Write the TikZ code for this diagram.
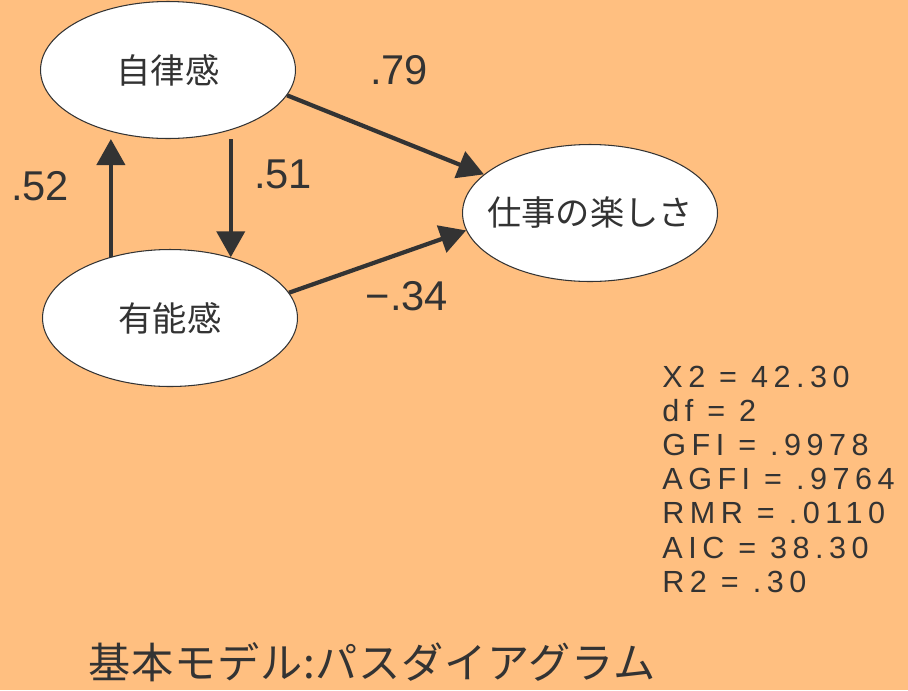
\documentclass[tikz,border=0pt]{standalone}
\usepackage{fontspec}
\setmainfont{Liberation Sans}
\newfontfamily\jpfont{Noto Sans CJK JP}
\newfontfamily\titlefont[LetterSpace=2]{Noto Sans CJK JP}
\newfontfamily\statfont[LetterSpace=18]{Liberation Sans}
\usetikzlibrary{arrows.meta,shapes.geometric}
\definecolor{peach}{HTML}{FFBF80}
\definecolor{ink}{HTML}{333333}

\begin{document}
\begin{tikzpicture}[x=0.02cm,y=-0.02cm,
  latent/.style={ellipse,draw=ink,line width=0.6pt,fill=white,inner sep=0pt,
    minimum width=5.1cm,minimum height=2.74cm,text=ink,
    font=\jpfont\fontsize{19.5}{22}\selectfont},
  effect/.style={draw=ink,line width=2.4pt,-{Triangle[length=0.52cm,width=0.56cm]}},
  coef/.style={anchor=base,inner sep=0pt,text=ink,font=\fontsize{23.7}{28}\selectfont},
  fit stat/.style={anchor=base west,inner sep=0pt,text=ink,font=\statfont\fontsize{17.4}{20}\selectfont}]
\fill[peach] (0,0) rectangle (908,690);

% latent variables
\node[latent] (jiritsu) at (168,70) {\makebox[0pt]{自律感}};
\node[latent] (yuno) at (170,318) {\makebox[0pt]{有能感}};
\node[latent] (shigoto) at (590,213) {\makebox[0pt]{仕事の楽しさ}};

% paths
\draw[effect] (yuno.134) -- (yuno.134 |- jiritsu.south);
\draw[effect] (yuno.45 |- jiritsu.south) -- (yuno.45);
\draw[effect] (jiritsu.-12) -- (shigoto.160);
\draw[effect] (yuno.12) -- (shigoto.188);

\node[coef] (c52) at (40,200) {.52};
\node[coef] (c51) at (283,188) {.51};
\node[coef] (c79) at (399,84) {.79};
\node[coef] (c34) at (407,310) {−.34};

% fit indices
\foreach \txt [count=\i] in {X2 = 42.30, df = 2, GFI = .9978, AGFI = .9764,
    RMR = .0110, AIC = 38.30, R2 = .30}
  \node[fit stat] (stat\i) at (662,{387+34.2*(\i-1)}) {\txt};

\node[anchor=base west,inner sep=0pt,text=ink,font=\titlefont\fontsize{24}{28}\selectfont]
  (caption) at (88,678) {基本モデル:パスダイアグラム};
\end{tikzpicture}
\end{document}
